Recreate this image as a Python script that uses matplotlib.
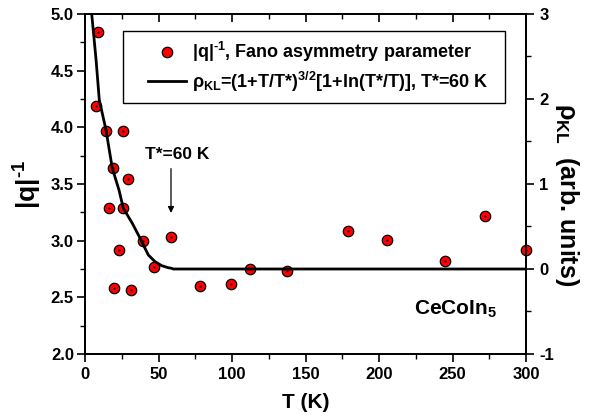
import matplotlib
matplotlib.use("Agg")
import matplotlib.pyplot as plt
from matplotlib.lines import Line2D
from matplotlib.patches import Rectangle

# Fano asymmetry parameter |q|^-1 vs T
T_pts = [8.6, 7.7, 14.3, 25.9, 18.8, 29.3, 16.5, 25.9, 23.1, 39.5, 58.3, 47.2,
         19.5, 31.1, 78.0, 99.5, 112.2, 137.2, 178.7, 205.4, 245.1, 272.3, 300.0]
q_inv = [4.84, 4.19, 3.97, 3.97, 3.64, 3.54, 3.29, 3.29, 2.92, 3.00, 3.035, 2.77,
         2.585, 2.567, 2.60, 2.62, 2.75, 2.735, 3.088, 3.003, 2.818, 3.22, 2.92]

# rho_KL curve (right axis, arb. units)
T_curve = [4.56, 7.48, 9.73, 14.29, 18.57, 23.13, 26.05, 32.2, 38.1, 43.06,
           47.62, 52.18, 56.67, 58.98, 60.0, 300.0]
rho_curve = [3.0, 2.471, 1.988, 1.635, 1.185, 0.929, 0.715, 0.537, 0.341, 0.165,
             0.087, 0.039, 0.015, 0.008, 0.0, 0.0]

plt.rcParams['font.family'] = ['Liberation Sans', 'DejaVu Sans']
plt.rcParams['font.weight'] = 'bold'
plt.rcParams['axes.unicode_minus'] = False
plt.rcParams['mathtext.fontset'] = 'custom'
plt.rcParams['mathtext.rm'] = 'Liberation Sans:bold'
plt.rcParams['mathtext.it'] = 'Liberation Sans:bold'
plt.rcParams['mathtext.bf'] = 'Liberation Sans:bold'

fig = plt.figure(figsize=(5.89, 4.20), dpi=100)
ax = fig.add_axes([85/589, 1-354/420, 441/589, 340/420])
ax2 = ax.twinx()

ax.set_xlim(0, 300)
ax.set_ylim(2.0, 5.0)
ax2.set_ylim(-1, 3)

ax.set_xticks([0, 50, 100, 150, 200, 250, 300])
ax.set_xticks(range(25, 300, 50), minor=True)
ax.set_yticks([2.0, 2.5, 3.0, 3.5, 4.0, 4.5, 5.0])
ax.set_yticklabels(['2.0', '2.5', '3.0', '3.5', '4.0', '4.5', '5.0'])
ax.set_yticks([2.25, 2.75, 3.25, 3.75, 4.25, 4.75], minor=True)
ax2.set_yticks([-1, 0, 1, 2, 3])
ax2.set_yticks([-0.5, 0.5, 1.5, 2.5], minor=True)

for a in (ax, ax2):
    for s in a.spines.values():
        s.set_linewidth(1.3)
ax.tick_params(axis='both', which='major', direction='out', length=6, width=1.2,
               labelsize=12)
ax.tick_params(axis='y', which='major', pad=2)
ax.tick_params(axis='both', which='minor', direction='out', length=3.5, width=1.0)
ax.tick_params(axis='x', which='both', top=True, labeltop=False)
ax2.tick_params(axis='y', which='major', direction='out', length=6, width=1.2, labelsize=12)
ax2.tick_params(axis='y', which='minor', direction='out', length=3.5, width=1.0)
# top ticks point inward
for t in ax.xaxis.get_major_ticks() + ax.xaxis.get_minor_ticks():
    t.tick2line.set_marker(3)

ax.set_xlabel('T (K)', fontsize=15, fontweight='bold', labelpad=8)
ax.set_ylabel(r'|q|$^{\text{-1}}$', fontsize=19, fontweight='bold', labelpad=5)
ax2.set_ylabel(r'$\rho_{KL}$  (arb. units)', fontsize=18, fontweight='bold',
               rotation=270, va='center')
ax2.yaxis.set_label_coords(1.093, 0.47)

ax.plot(T_pts, q_inv, 'o', color='red', markeredgecolor='black', markersize=7.5,
        markeredgewidth=0.9, zorder=5, clip_on=False)
ax.plot(T_pts, q_inv, '.', color='black', markersize=1.2, zorder=6, clip_on=False)
ax2.plot(T_curve, rho_curve, '-', color='black', linewidth=2)

ax.annotate('', xy=(58.5, 3.22), xytext=(58.5, 3.66),
            arrowprops=dict(arrowstyle='-|>', color='black', lw=0.9, mutation_scale=9))
ax.text(62.5, 3.69, 'T*=60 K', fontsize=12.5, fontweight='bold', ha='center', va='bottom')
ax.text(280, 2.30, 'CeCoIn$_5$', fontsize=15, fontweight='bold', ha='right', va='bottom')

# legend frame
ax2.add_patch(Rectangle((0.0862, 0.7382), 0.8662, 0.2118, transform=ax2.transAxes,
                        facecolor='white', edgecolor='black', linewidth=1.0, zorder=3))
h1 = Line2D([], [], marker='o', linestyle='none', color='red', markeredgecolor='black',
            markersize=7.5, markeredgewidth=0.9)
h2 = Line2D([], [], color='black', linewidth=2)
leg = ax2.legend([h1, h2],
                 [r'|q|$^{\text{-1}}$, Fano asymmetry parameter',
                  r'$\rho_{KL}$=(1+T/T*)$^{3/2}$[1+ln(T*/T)], T*=60 K'],
                 loc='upper left', bbox_to_anchor=(0.1429, 0.923), fontsize=13,
                 frameon=False, borderpad=0, handlelength=2.1, handletextpad=0.35,
                 labelspacing=0.3, borderaxespad=0)
leg.set_zorder(4)

fig.savefig('out.png', dpi=100)
